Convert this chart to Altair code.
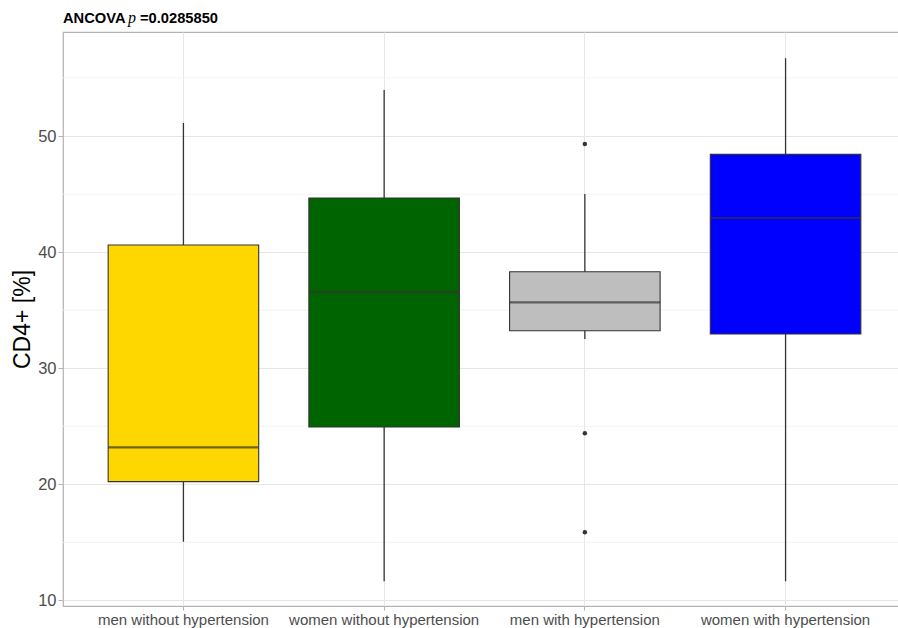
import altair as alt
import pandas as pd

# Groups and five-number summaries of CD4+ (%)
categories = [
    "men without hypertension",
    "women without hypertension",
    "men with hypertension",
    "women with hypertension",
]
lower = [15.06, 11.65, 32.52, 11.65]
q1 = [20.23, 24.94, 33.23, 32.95]
median = [23.19, 36.57, 35.68, 42.94]
q3 = [40.61, 44.66, 38.31, 48.42]
upper = [51.12, 53.96, 45.00, 56.69]
fills = ["#FFD700", "#006400", "#BEBEBE", "#0000FF"]

# Outlying observations
outlier_group = ["men with hypertension"] * 3
outlier_value = [49.31, 24.40, 15.87]

# Axis ticks and minor grid
y_ticks = [10, 20, 30, 40, 50]
minor_grid = [15, 25, 35, 45, 55]
y_domain = [9.52, 58.96]

# Title pieces: plain, italic p, value
title_parts = ["ANCOVA", "p", "=0.0285850"]

W, H = 843, 574
FONT = "Liberation Sans"
LINE = "#333333"

boxes = pd.DataFrame({
    "group": categories, "lower": lower, "q1": q1, "median": median,
    "q3": q3, "upper": upper, "fill": fills,
})
outliers = pd.DataFrame({"group": outlier_group, "value": outlier_value})
minor = pd.DataFrame({"v": minor_grid})

x_enc = alt.X(
    "group:N",
    sort=categories,
    scale=alt.Scale(paddingInner=0.25, paddingOuter=0.225),
    axis=alt.Axis(
        title=None, labelAngle=0, labelFontSize=15, labelFont=FONT,
        labelColor="#4D4D4D", labelPadding=2, labelLimit=0, tickSize=4,
        tickColor="#B3B3B3", domain=False, grid=True, gridColor="#E6E6E6",
        gridWidth=1, bandPosition=0.5,
    ),
)
y_scale = alt.Scale(domain=y_domain, nice=False, zero=False)

base = alt.Chart(boxes)

minor_rules = alt.Chart(minor).mark_rule(color="#F0F0F0", strokeWidth=0.8).encode(
    y=alt.Y("v:Q", scale=y_scale, axis=alt.Axis(
        values=y_ticks, title="CD4+ [%]", titleFontSize=23, titleFont=FONT,
        titleFontWeight="normal", titleColor="#000000", titlePadding=3,
        labelFontSize=16.5, labelFont=FONT, labelColor="#4D4D4D",
        labelPadding=2, tickSize=5, tickColor="#B3B3B3", domain=False,
        grid=True, gridColor="#E6E6E6", gridWidth=1,
    )),
)

whiskers = base.mark_rule(color=LINE, strokeWidth=1.3).encode(
    x=x_enc,
    y=alt.Y("lower:Q", scale=y_scale),
    y2="upper:Q",
)

box = base.mark_bar(stroke=LINE, strokeWidth=1.1).encode(
    x=x_enc,
    y=alt.Y("q1:Q", scale=y_scale),
    y2="q3:Q",
    fill=alt.Fill("fill:N", scale=None),
)

med = base.mark_tick(color=LINE, thickness=2.2, size=W / 4.2 * 0.75).encode(
    x=x_enc,
    y=alt.Y("median:Q", scale=y_scale),
)

points = alt.Chart(outliers).mark_circle(color=LINE, opacity=1, size=20).encode(
    x=x_enc,
    y=alt.Y("value:Q", scale=y_scale),
)

title_df = pd.DataFrame({"t": title_parts})
t1 = alt.Chart(title_df).transform_filter(alt.datum.t == title_parts[0]).mark_text(
    font=FONT, fontSize=14.7, fontWeight="bold", align="left",
    baseline="alphabetic", color="#000000",
).encode(text="t:N", x=alt.value(0), y=alt.value(-9))
t2 = alt.Chart(title_df).transform_filter(alt.datum.t == title_parts[1]).mark_text(
    font="Liberation Serif", fontSize=16, fontStyle="italic", align="left",
    baseline="alphabetic", color="#000000",
).encode(text="t:N", x=alt.value(65), y=alt.value(-9))
t3 = alt.Chart(title_df).transform_filter(alt.datum.t == title_parts[2]).mark_text(
    font=FONT, fontSize=14.7, fontWeight="bold", align="left",
    baseline="alphabetic", color="#000000",
).encode(text="t:N", x=alt.value(77), y=alt.value(-9))

chart = alt.layer(minor_rules, whiskers, box, med, points, t1, t2, t3).properties(
    width=W,
    height=H,
    autosize=alt.AutoSizeParams(type="none"),
    padding={"left": 63, "top": 32, "right": -8, "bottom": 22},
    background="#FFFFFF",
).configure_view(stroke="#B3B3B3", strokeWidth=1.2)

chart.save("out.html", embed_options={"renderer": "svg", "actions": False})
